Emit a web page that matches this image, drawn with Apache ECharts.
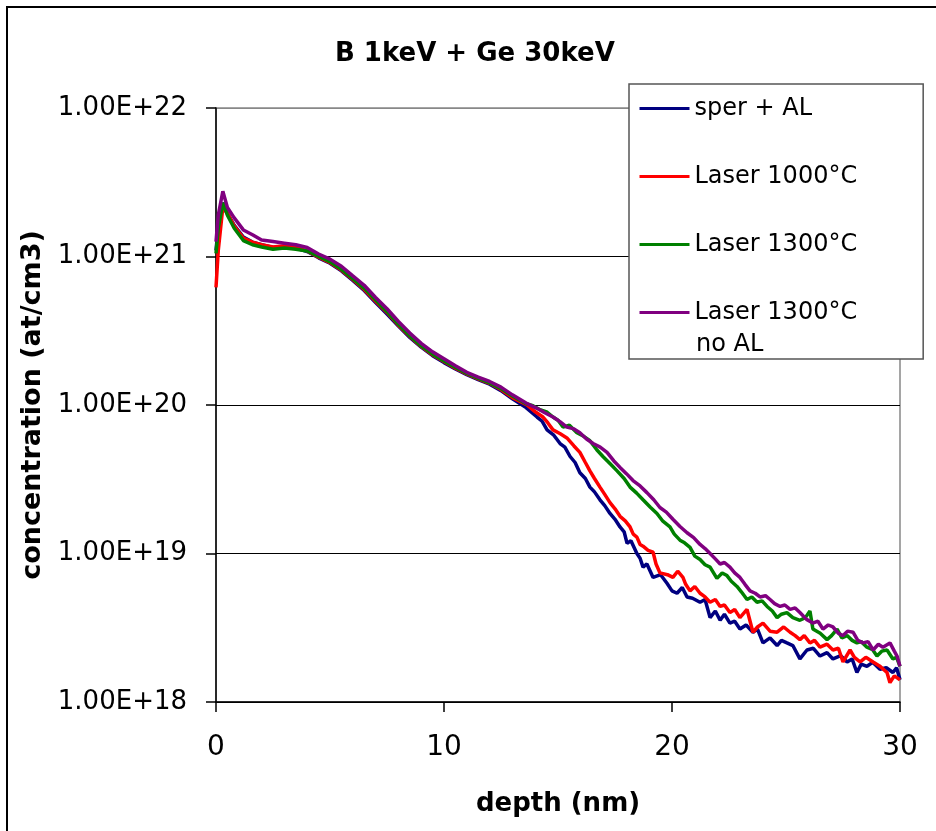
<!DOCTYPE html>
<html><head><meta charset="utf-8">
<script src="https://cdn.jsdelivr.net/npm/echarts@6/dist/echarts.min.js"></script>
<style>html,body{margin:0;padding:0;background:#fff}#chart{width:936px;height:831px}</style>
</head><body><div id="chart"></div>
<script>
const chartTitle = 'B 1keV + Ge 30keV';
const xAxisName = 'depth (nm)';
const yAxisName = 'concentration (at/cm3)';
const xTickValues = [0, 10, 20, 30];
const yTickLabels = ['1.00E+18', '1.00E+19', '1.00E+20', '1.00E+21', '1.00E+22'];
const seriesNames = ['sper + AL', 'Laser 1000°C', 'Laser 1300°C', 'Laser 1300°C no AL'];
const legendLabels = ['sper + AL', 'Laser 1000°C', 'Laser 1300°C', 'Laser 1300°C'];
const legendExtraLine = 'no AL';

// [depth (nm), concentration (at/cm3)]
const sperAL = [[0,1.1e21],[0.1,1.6e21],[0.3,2.3e21],[0.5,1.95e21],[0.8,1.62e21],[1.2,1.35e21],[1.6,1.25e21],[2,1.2e21],[2.5,1.15e21],[3,1.17e21],[3.5,1.14e21],[4,1.08e21],[4.5,9.8e20],[5,9.0e20],[5.5,8.0e20],[6,6.9e20],[6.5,5.9e20],[7,4.9e20],[7.5,4.1e20],[8,3.4e20],[8.5,2.85e20],[9,2.45e20],[9.5,2.15e20],[10,1.93e20],[10.5,1.75e20],[11,1.6e20],[11.5,1.48e20],[12,1.38e20],[12.5,1.25e20],[13,1.1e20],[13.6,9.6e19],[14.08,8.3e19],[14.3,7.8e19],[14.52,6.8e19],[14.8,6.3e19],[15.09,5.5e19],[15.3,5.2e19],[15.53,4.5e19],[15.75,4.1e19],[15.96,3.5e19],[16.2,3.2e19],[16.4,2.8e19],[16.6,2.6e19],[16.84,2.3e19],[17.05,2.1e19],[17.28,1.86e19],[17.5,1.7e19],[17.72,1.51e19],[17.9,1.4e19],[18.03,1.17e19],[18.2,1.22e19],[18.46,1.0e19],[18.6,9.3e18],[18.73,8.1e18],[18.9,8.5e18],[19.17,6.9e18],[19.5,7.2e18],[19.78,6.3e18],[20.0,5.6e18],[20.22,5.4e18],[20.45,5.9e18],[20.66,5.1e18],[20.9,5.0e18],[21.23,4.7e18],[21.45,4.9e18],[21.67,3.7e18],[21.9,4.1e18],[22.11,3.55e18],[22.3,3.9e18],[22.54,3.4e18],[22.75,3.5e18],[22.98,3.1e18],[23.25,3.3e18],[23.55,2.95e18],[23.75,3.1e18],[23.99,2.5e18],[24.3,2.7e18],[24.61,2.4e18],[24.8,2.6e18],[25.04,2.5e18],[25.3,2.4e18],[25.61,1.95e18],[25.92,2.24e18],[26.2,2.3e18],[26.49,2.04e18],[26.8,2.15e18],[27.06,1.95e18],[27.4,2.05e18],[27.68,1.86e18],[27.9,1.95e18],[28.11,1.58e18],[28.3,1.8e18],[28.55,1.74e18],[28.8,1.85e18],[29.12,1.66e18],[29.4,1.7e18],[29.69,1.58e18],[29.85,1.7e18],[30,1.41e18]];

const laser1000 = [[0,6.2e20],[0.1,1.1e21],[0.3,2.15e21],[0.5,1.95e21],[0.8,1.6e21],[1.2,1.33e21],[1.6,1.25e21],[2,1.2e21],[2.5,1.16e21],[3,1.18e21],[3.5,1.15e21],[4,1.09e21],[4.5,9.9e20],[5,9.1e20],[5.5,8.1e20],[6,7.0e20],[6.5,6.0e20],[7,5.0e20],[7.5,4.2e20],[8,3.45e20],[8.5,2.9e20],[9,2.48e20],[9.5,2.18e20],[10,1.96e20],[10.5,1.77e20],[11,1.62e20],[11.5,1.5e20],[12,1.4e20],[12.5,1.27e20],[13,1.12e20],[13.64,1.0e20],[14.0,9.0e19],[14.34,8.3e19],[14.55,7.6e19],[14.78,6.8e19],[15.1,6.4e19],[15.39,6.0e19],[15.7,5.3e19],[15.96,4.8e19],[16.2,4.1e19],[16.4,3.6e19],[16.6,3.2e19],[16.84,2.8e19],[17.05,2.5e19],[17.28,2.2e19],[17.5,2.0e19],[17.72,1.78e19],[17.95,1.66e19],[18.16,1.51e19],[18.3,1.35e19],[18.46,1.29e19],[18.6,1.15e19],[18.73,1.12e19],[18.95,1.05e19],[19.17,1.02e19],[19.3,8.5e18],[19.47,7.4e18],[19.8,7.2e18],[20.04,6.9e18],[20.25,7.6e18],[20.48,6.9e18],[20.6,6.2e18],[20.79,5.6e18],[21.0,6.0e18],[21.23,5.4e18],[21.45,5.1e18],[21.67,4.7e18],[21.9,4.9e18],[22.11,4.4e18],[22.3,4.5e18],[22.54,4.0e18],[22.75,4.2e18],[22.98,3.7e18],[23.29,4.2e18],[23.55,2.95e18],[23.75,3.2e18],[23.99,3.4e18],[24.3,3.0e18],[24.61,2.95e18],[24.9,3.2e18],[25.18,2.95e18],[25.4,2.8e18],[25.61,2.63e18],[25.8,2.8e18],[26.05,2.5e18],[26.25,2.6e18],[26.49,2.34e18],[26.8,2.45e18],[27.06,2.24e18],[27.3,2.3e18],[27.5,1.86e18],[27.81,2.24e18],[28.0,2.0e18],[28.25,1.86e18],[28.5,2.0e18],[28.82,1.86e18],[29.1,1.75e18],[29.43,1.58e18],[29.56,1.35e18],[29.75,1.5e18],[30,1.41e18]];

const laser1300 = [[0,1.05e21],[0.1,1.55e21],[0.3,2.3e21],[0.5,1.9e21],[0.8,1.55e21],[1.2,1.28e21],[1.6,1.2e21],[2,1.16e21],[2.5,1.12e21],[3,1.14e21],[3.5,1.12e21],[4,1.09e21],[4.5,1.0e21],[5,9.2e20],[5.5,8.2e20],[6,7.1e20],[6.5,6.1e20],[7,5.1e20],[7.5,4.25e20],[8,3.5e20],[8.5,2.92e20],[9,2.5e20],[9.5,2.2e20],[10,1.98e20],[10.5,1.79e20],[11,1.63e20],[11.5,1.51e20],[12,1.41e20],[12.5,1.29e20],[13,1.15e20],[13.6,1.02e20],[13.9,9.9e19],[14.21,9.3e19],[14.5,9.0e19],[14.78,8.3e19],[15.0,7.9e19],[15.22,7.1e19],[15.5,7.3e19],[15.83,6.5e19],[16.1,6.2e19],[16.4,5.75e19],[16.7,5.0e19],[16.97,4.5e19],[17.3,4.0e19],[17.59,3.6e19],[17.9,3.2e19],[18.16,2.8e19],[18.45,2.55e19],[18.73,2.3e19],[19.05,2.05e19],[19.34,1.86e19],[19.6,1.65e19],[19.91,1.51e19],[20.1,1.35e19],[20.35,1.23e19],[20.55,1.18e19],[20.79,1.1e19],[21.0,9.6e18],[21.23,9.1e18],[21.45,8.4e18],[21.67,8.1e18],[21.97,6.8e18],[22.2,7.4e18],[22.41,7.1e18],[22.6,6.5e18],[22.85,6.0e18],[23.05,5.5e18],[23.29,4.9e18],[23.5,5.1e18],[23.73,4.7e18],[23.95,4.8e18],[24.17,4.4e18],[24.4,4.1e18],[24.61,3.7e18],[24.8,3.9e18],[25.04,4.0e18],[25.3,3.7e18],[25.61,3.55e18],[25.85,3.7e18],[26.05,4.1e18],[26.18,3.1e18],[26.5,2.9e18],[26.8,2.63e18],[27.0,2.8e18],[27.24,3.1e18],[27.45,2.7e18],[27.68,2.8e18],[27.9,2.6e18],[28.11,2.5e18],[28.3,2.55e18],[28.55,2.34e18],[28.8,2.25e18],[28.99,2.04e18],[29.2,2.2e18],[29.43,2.24e18],[29.69,1.95e18],[29.85,2.0e18],[30,1.74e18]];

const laser1300noAL = [[0,1.26e21],[0.1,1.9e21],[0.3,2.75e21],[0.5,2.14e21],[0.8,1.82e21],[1.2,1.51e21],[1.6,1.4e21],[2,1.29e21],[2.5,1.26e21],[3,1.23e21],[3.5,1.2e21],[4,1.15e21],[4.5,1.04e21],[5,9.6e20],[5.5,8.6e20],[6,7.4e20],[6.5,6.4e20],[7,5.3e20],[7.5,4.45e20],[8,3.65e20],[8.5,3.05e20],[9,2.6e20],[9.5,2.28e20],[10,2.05e20],[10.5,1.84e20],[11,1.66e20],[11.5,1.54e20],[12,1.44e20],[12.5,1.32e20],[13,1.17e20],[13.6,1.03e20],[14.08,9.5e19],[14.4,8.9e19],[14.78,8.3e19],[15.1,7.7e19],[15.39,7.1e19],[15.7,6.9e19],[15.96,6.5e19],[16.25,5.9e19],[16.54,5.5e19],[16.85,5.2e19],[17.15,4.8e19],[17.45,4.2e19],[17.72,3.8e19],[18.0,3.45e19],[18.29,3.1e19],[18.6,2.85e19],[18.9,2.57e19],[19.2,2.3e19],[19.47,2.04e19],[19.75,1.9e19],[20.04,1.7e19],[20.35,1.52e19],[20.66,1.38e19],[20.95,1.28e19],[21.23,1.15e19],[21.45,1.08e19],[21.67,1.0e19],[21.9,9.2e18],[22.11,8.5e18],[22.3,8.7e18],[22.54,8.1e18],[22.75,7.4e18],[22.98,6.9e18],[23.2,6.2e18],[23.42,5.6e18],[23.65,5.4e18],[23.86,5.1e18],[24.1,5.2e18],[24.3,4.9e18],[24.5,4.6e18],[24.74,4.4e18],[24.95,4.5e18],[25.18,4.2e18],[25.4,4.3e18],[25.61,4.0e18],[25.9,3.6e18],[26.18,3.4e18],[26.4,3.5e18],[26.62,3.1e18],[26.85,3.3e18],[27.06,3.2e18],[27.3,2.9e18],[27.5,2.8e18],[27.7,3.0e18],[27.94,2.95e18],[28.15,2.6e18],[28.38,2.5e18],[28.6,2.55e18],[28.82,2.24e18],[29.05,2.45e18],[29.25,2.34e18],[29.56,2.5e18],[29.75,2.2e18],[29.87,2.04e18],[30,1.74e18]];

const seriesData = [sperAL, laser1000, laser1300, laser1300noAL];
const seriesColors = ['#000080', '#FF0000', '#008000', '#800080'];

const FONT = 'DejaVu Sans';
const chart = echarts.init(document.getElementById('chart'), null, {renderer: 'canvas'});
chart.setOption({
  animation: false,
  backgroundColor: '#ffffff',
  title: {
    text: chartTitle, left: 335, top: 41, padding: 0,
    textStyle: {fontFamily: FONT, fontSize: 26, fontWeight: 'bold', color: '#000'}
  },
  graphic: [{
    type: 'rect', z: -1, silent: true,
    shape: {x: 7, y: 7, width: 1200, height: 1200},
    style: {fill: null, stroke: '#000', lineWidth: 2}
  }, {
    type: 'text', z: 100, silent: true, left: 696, top: 333,
    style: {text: legendExtraLine, fill: '#000', fontFamily: FONT, fontSize: 24}
  }],
  legend: {
    orient: 'vertical', left: 629, top: 84,
    padding: [9, 66, 31, 9], itemGap: 37, itemWidth: 50, itemHeight: 31,
    backgroundColor: '#fff', borderColor: '#555', borderWidth: 1.5, borderRadius: 0,
    itemStyle: {opacity: 0},
    lineStyle: {width: 3, inactiveWidth: 3},
    textStyle: {fontFamily: FONT, fontSize: 24, color: '#000', lineHeight: 31},
    data: seriesNames.map(function (n) { return {name: n}; }),
    formatter: function (n) { return legendLabels[seriesNames.indexOf(n)]; }
  },
  grid: {left: 216, right: 36, top: 108, bottom: 129, show: true, borderColor: '#888', borderWidth: 1.5, backgroundColor: 'transparent'},
  xAxis: {
    type: 'value', min: 0, max: 30, interval: 10,
    name: xAxisName, nameLocation: 'middle', nameGap: 89,
    nameTextStyle: {fontFamily: FONT, fontSize: 26, fontWeight: 'bold', color: '#000'},
    axisLine: {show: true, onZero: false, lineStyle: {color: '#000', width: 1.5}},
    axisTick: {show: true, inside: false, length: 10, lineStyle: {color: '#000', width: 1.5}},
    axisLabel: {margin: 32, fontFamily: FONT, fontSize: 28, color: '#000',
      formatter: function (v) { return xTickValues.indexOf(v) >= 0 ? String(v) : ''; }},
    splitLine: {show: false}
  },
  yAxis: {
    type: 'log', logBase: 10, min: 1e18, max: 1e22,
    name: yAxisName, nameLocation: 'middle', nameGap: 166,
    nameTextStyle: {fontFamily: FONT, fontSize: 27, fontWeight: 'bold', color: '#000'},
    axisLine: {show: true, lineStyle: {color: '#000', width: 1.5}},
    axisTick: {show: true, inside: false, length: 10, lineStyle: {color: '#000', width: 1.5}},
    axisLabel: {margin: 29, fontFamily: FONT, fontSize: 26, color: '#000',
      formatter: function (v) { const e = Math.round(Math.log10(v)); return yTickLabels[e - 18] || ''; }},
    splitLine: {show: true, lineStyle: {color: ['#888', '#000', '#000', '#000', '#000'], width: 1.2}}
  },
  series: seriesNames.map(function (name, i) {
    return {
      name: name, type: 'line', data: seriesData[i], symbol: 'none', showSymbol: false,
      smooth: false, clip: true,
      lineStyle: {color: seriesColors[i], width: 3.5},
      itemStyle: {color: seriesColors[i]},
      z: 2 + i
    };
  })
});
</script></body></html>
